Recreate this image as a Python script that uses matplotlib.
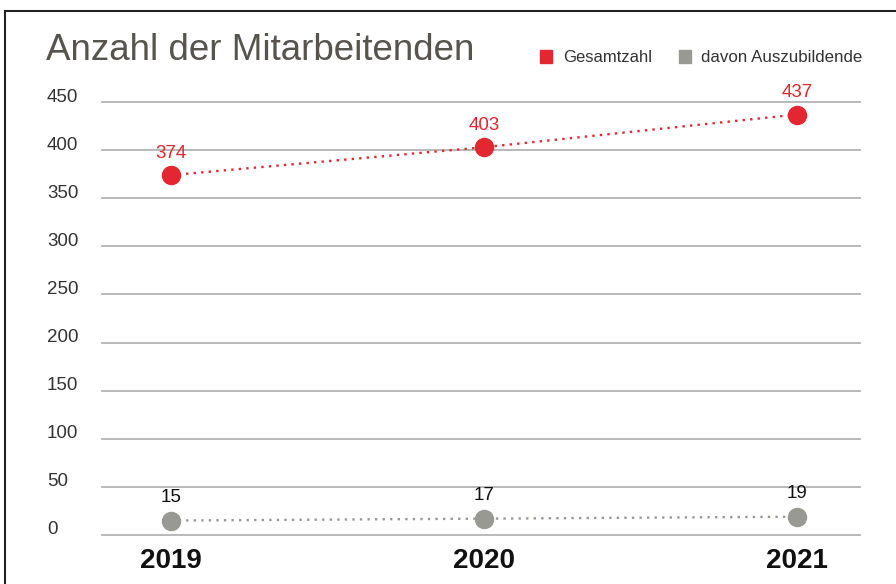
import matplotlib
matplotlib.use("Agg")
import matplotlib.pyplot as plt
from matplotlib.lines import Line2D
from matplotlib.patches import Rectangle

years = ["2019", "2020", "2021"]
gesamt = [374, 403, 437]
azubis = [15, 17, 19]
yticks = [0, 50, 100, 150, 200, 250, 300, 350, 400, 450]

RED = "#e3262f"
GRAY = "#999993"
FONT = "Liberation Sans"
plt.rcParams["font.family"] = [FONT, "DejaVu Sans"]

W, H = 896, 584
fig = plt.figure(figsize=(W / 100, H / 100), dpi=100)

def fx(px):
    return px / W

def fy(py):
    return 1 - py / H

ax = fig.add_axes([fx(102), fy(535), fx(860) - fx(102), fy(102) - fy(535)])
ax.set_xlim(-0.2204, 2.2012)
ax.set_ylim(0, 450)
ax.set_axis_off()

for t in yticks:
    ax.axhline(t, color="#b3b3b3", lw=1.3, zorder=1, clip_on=False)
    ax.annotate(str(t), xy=(0, t), xycoords=("figure fraction", "data"),
                xytext=(47, 5), textcoords="offset pixels",
                ha="left", va="center", fontsize=13.5, color="#333333")

xs = list(range(len(years)))
ax.plot(xs, gesamt, ls=(0, (1, 2.2)), color=RED, lw=1.7, zorder=2, clip_on=False)
ax.plot(xs, gesamt, ls="none", marker="o", ms=13, color=RED, zorder=3, clip_on=False)
ax.plot(xs, azubis, ls=(0, (1, 2.2)), color=GRAY, lw=1.7, zorder=2, clip_on=False)
ax.plot(xs, azubis, ls="none", marker="o", ms=13, color=GRAY, zorder=3, clip_on=False)

for x, v in zip(xs, gesamt):
    ax.annotate(str(v), xy=(x, v), xytext=(0, 22), textcoords="offset pixels",
                ha="center", va="center", fontsize=13.5, color=RED)
for x, v in zip(xs, azubis):
    ax.annotate(str(v), xy=(x, v), xytext=(0, 23), textcoords="offset pixels",
                ha="center", va="center", fontsize=13.5, color="#111111")

for x, y in zip(xs, years):
    ax.annotate(y, xy=(x, 0), xytext=(0, -26), textcoords="offset pixels",
                ha="center", va="center", fontsize=20, fontweight="bold", color="#111111")

# title
fig.text(fx(46), fy(50), "Anzahl der Mitarbeitenden", ha="left", va="center",
         fontsize=26.5, color="#57544d")

# legend
fig.patches.append(Rectangle((fx(540), fy(63)), fx(12), fy(50) - fy(63),
                             transform=fig.transFigure, color=RED))
fig.text(fx(563), fy(57), "Gesamtzahl", ha="left", va="center", fontsize=12, color="#333333")
fig.patches.append(Rectangle((fx(679), fy(63)), fx(12), fy(50) - fy(63),
                             transform=fig.transFigure, color=GRAY))
fig.text(fx(701), fy(57), "davon Auszubildende", ha="left", va="center", fontsize=12.2, color="#333333")

# frame lines
fig.add_artist(Line2D([fx(5), 1], [fy(11), fy(11)], color="#222222", lw=1.5))
fig.add_artist(Line2D([fx(5), fx(5)], [fy(11), 0], color="#222222", lw=1.5))

fig.savefig("out.png", dpi=100)
